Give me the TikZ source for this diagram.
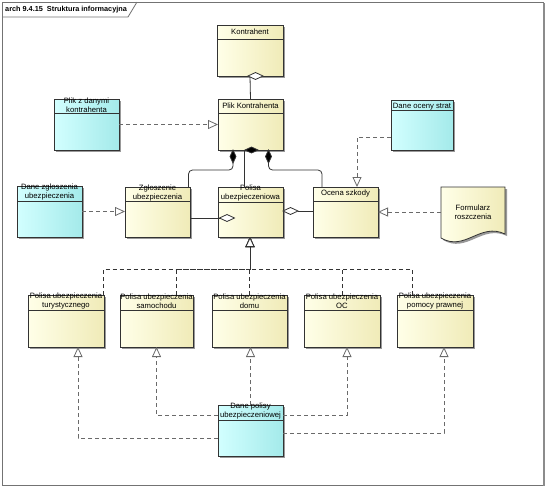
\documentclass[tikz,border=0pt]{standalone}
\usepackage{fontspec}
\setmainfont{Liberation Sans}
\usetikzlibrary{arrows.meta,shapes.geometric,shadows,calc}
\definecolor{yelL}{HTML}{FFFFE8}
\definecolor{yelR}{HTML}{F0EBB8}
\definecolor{cyaL}{HTML}{D2FFFF}
\definecolor{cyaR}{HTML}{A4EAEA}
\definecolor{edge}{HTML}{333333}
\definecolor{dashc}{HTML}{6A6A6A}
\tikzset{
  box/.style={draw=edge, line width=0.8pt, rectangle, inner sep=0pt, outer sep=0pt,
    drop shadow={shadow xshift=2pt, shadow yshift=-2pt, fill=black!40, opacity=1}},
  ybox/.style={box, left color=yelL, right color=yelR},
  cbox/.style={box, left color=cyaL, right color=cyaR},
  lbl/.style={font=\fontsize{7.7}{9}\selectfont, inner sep=0pt, align=center},
  solidc/.style={draw=edge, line width=0.8pt},
  depc/.style={draw=dashc, line width=0.8pt, dash pattern=on 4pt off 3pt},
  genc/.style={draw=edge, line width=0.9pt, dash pattern=on 4pt off 3pt},
  tri/.style={-{Triangle[open, fill=white, length=10pt, width=9pt, line width=0.8pt]}},
  hdiam/.style={diamond, draw=edge, line width=0.8pt, inner sep=0pt, outer sep=0pt,
    minimum width=15pt, minimum height=7pt, fill=white},
  vfdiam/.style={diamond, draw=edge, line width=0.8pt, inner sep=0pt, outer sep=0pt,
    minimum width=6pt, minimum height=13pt, fill=black},
  hfdiam/.style={diamond, draw=edge, line width=0.8pt, inner sep=0pt, outer sep=0pt,
    minimum width=13pt, minimum height=6pt, fill=black},
}
\newcommand\umlbox[8]{%
  \node[#1, minimum width={#5pt-#3pt}, minimum height={#6pt-#4pt}] (#2) at ({(#3+#5)/2},{(#4+#6)/2}) {};
  \draw[draw=edge, line width=0.8pt] ([yshift=-#7pt]#2.north west) -- ([yshift=-#7pt]#2.north east);
  \node[lbl] (#2-t) at ([yshift=-6.5pt]#2.north) {#8};
}
\begin{document}
\begin{tikzpicture}[x=1pt, y=-1pt]
\useasboundingbox (0,0) rectangle (547,488);
% frame
\draw[draw=black!55, line width=0.8pt] (2,2) rectangle (543,485);
\draw[draw=black!45, line width=1.6pt] (544,3) -- (544,486);
\draw[draw=black!55, line width=0.8pt] (2,17) -- (128,17) -- (137,2);
\node[font=\bfseries\fontsize{7.3}{8}\selectfont, anchor=west, inner sep=0pt] (title) at (5,9.5) {arch 9.4.15\ \ Struktura informacyjna};

% boxes
\umlbox{ybox}{kon}{217}{25}{283}{76}{14}{Kontrahent}
\umlbox{ybox}{plik}{218}{99}{283}{150}{14}{Plik Kontrahenta}
\umlbox{cbox}{pzd}{54}{99}{119}{150}{14}{Plik z danymi\\kontrahenta}
\umlbox{cbox}{dos}{391}{100}{453}{150}{10}{Dane oceny strat}
\umlbox{cbox}{dzg}{17}{186}{82}{237}{15}{Dane zgłoszenia\\ubezpieczenia}
\umlbox{ybox}{zgl}{125}{187}{190}{237}{14}{Zgłoszenie\\ubezpieczenia}
\umlbox{ybox}{pol}{218}{187}{283}{237}{15}{Polisa\\ubezpieczeniowa}
\umlbox{ybox}{oce}{313}{187}{378}{237}{14}{Ocena szkody}
\umlbox{ybox}{s1}{28}{295}{104}{347}{15}{Polisa ubezpieczenia\\turystycznego}
\umlbox{ybox}{s2}{120}{295}{193}{347}{15}{Polisa ubezpieczenia\\samochodu}
\umlbox{ybox}{s3}{212}{295}{287}{347}{15}{Polisa ubezpieczenia\\domu}
\umlbox{ybox}{s4}{304}{295}{380}{347}{15}{Polisa ubezpieczenia\\OC}
\umlbox{ybox}{s5}{397}{295}{473}{347}{15}{Polisa ubezpieczenia\\pomocy prawnej}
\umlbox{cbox}{dp}{218}{405}{283}{456}{15}{Dane polisy\\ubezpieczeniowej}

% document shape
\fill[black!40] (443,189) -- (507,189) -- (507,236) .. controls (482,224) and (467,254) .. (443,240) -- cycle;
\shade[left color=yelL, right color=yelR, draw=edge, line width=0.8pt] (441,187) -- (505,187) -- (505,234) .. controls (480,222) and (465,252) .. (441,238) -- cycle;
\node[inner sep=0pt, minimum width=64pt, minimum height=50pt] (form) at (473,212) {};
\node[lbl] (form-t) at (473,212) {Formularz\\roszczenia};

% compositions / aggregations
\draw[solidc] (kon.south) -- (plik.north);
\node[hdiam] (d0) at ([xshift=5.5pt]kon.south) {};
\draw[solidc] ([xshift=-6.5pt]plik.south) -- ([xshift=-6.5pt]pol.north);
\node[vfdiam] (dL) at (233,156.5) {};
\node[vfdiam] (dR) at (268.5,156.5) {};
\node[hfdiam] (dC) at ([xshift=1pt]plik.south) {};
\draw[solidc, rounded corners=4pt] (dL.south) -- ++(0,7) -| ([xshift=-1.5pt]zgl.north east);
\draw[solidc, rounded corners=4pt] (dR.south) -- ++(0,7) -| ([xshift=9pt]oce.north west);
\node[hdiam] (dP1) at (227,218) {};
\draw[solidc] (zgl.east |- dP1.west) -- (dP1.west);
\node[hdiam] (dP2) at (290.5,211) {};
\draw[solidc] (dP2.east) -- (oce.west |- dP2.east);

% realizations
\draw[depc, tri] (pzd.east) -- (plik.west |- pzd.east);
\draw[depc, tri] ([yshift=-12pt]dos.west) -| ([xshift=11.5pt]oce.north);
\draw[depc, tri] (dzg.east) -- (zgl.west |- dzg.east);
\draw[depc, tri] (form.west) -- (oce.east |- form.west);

% generalizations
\coordinate (bus) at (250,269);
\draw[genc, tri] ([xshift=-0.5pt]s1.north east) |- (bus) -- (bus |- pol.south);
\draw[genc, tri] ([xshift=19.5pt]s2.north) |- (bus) -- (bus |- pol.south);
\draw[genc, tri] (s3.north) |- (bus) -- (bus |- pol.south);
\draw[genc, tri] (s4.north) |- (bus) -- (bus |- pol.south);
\draw[genc, tri] ([xshift=-23pt]s5.north) |- (bus) -- (bus |- pol.south);

% data dependencies
\draw[depc, tri] ([yshift=-7.5pt]dp.west) -| ([xshift=12pt]s1.south);
\draw[depc, tri] ([yshift=15.5pt]dp.west) -| (s2.south);
\draw[depc, tri] (dp.north) -- (dp.north |- s3.south);
\draw[depc, tri] ([yshift=15.5pt]dp.east) -| ([xshift=5pt]s4.south);
\draw[depc, tri] ([yshift=-2.5pt]dp.east) -| ([xshift=9pt]s5.south);
\end{tikzpicture}
\end{document}
